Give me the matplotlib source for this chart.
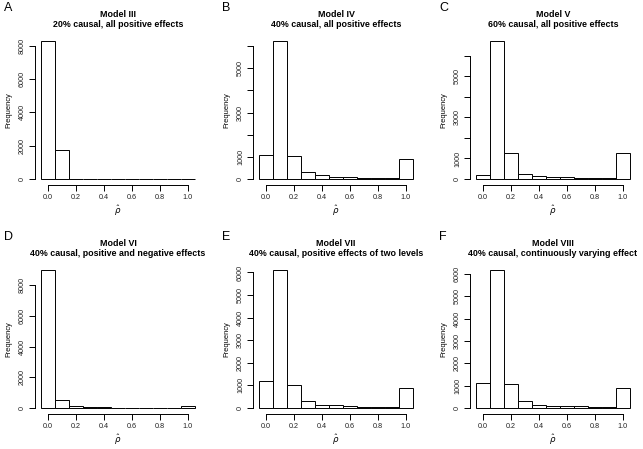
import matplotlib
matplotlib.use("Agg")
import matplotlib.pyplot as plt

plt.rcParams["font.family"] = ["Liberation Sans", "DejaVu Sans"]

bin_centers = [0.0, 0.1, 0.2, 0.3, 0.4, 0.5, 0.6, 0.7, 0.8, 0.9, 1.0]

counts_a = [8320, 1740, 0, 0, 0, 0, 0, 0, 0, 0, 0]
counts_b = [1070, 6250, 1020, 300, 165, 105, 75, 45, 60, 30, 900]
counts_c = [195, 6750, 1270, 245, 130, 100, 80, 30, 50, 30, 1250]
counts_d = [9020, 540, 150, 80, 40, 25, 10, 10, 10, 10, 150]
counts_e = [1210, 6130, 1020, 310, 150, 120, 100, 60, 30, 45, 870]
counts_f = [1100, 6190, 1060, 330, 150, 100, 75, 75, 30, 30, 900]

letters = ["A", "B", "C", "D", "E", "F"]
titles = [
    "Model III\n20% causal, all positive effects",
    "Model IV\n40% causal, all positive effects",
    "Model V\n60% causal, all positive effects",
    "Model VI\n40% causal, positive and negative effects",
    "Model VII\n40% causal, positive effects of two levels",
    "Model VIII\n40% causal, continuously varying effect",
]
y_ticks = [
    [0, 2000, 4000, 6000, 8000],
    [0, 1000, 2000, 3000, 4000, 5000, 6000],
    [0, 1000, 2000, 3000, 4000, 5000, 6000],
    [0, 2000, 4000, 6000, 8000],
    [0, 1000, 2000, 3000, 4000, 5000, 6000],
    [0, 1000, 2000, 3000, 4000, 5000, 6000],
]
# R drops labels that would overlap
y_labels = [
    ["0", "2000", "4000", "6000", "8000"],
    ["0", "1000", "", "3000", "", "5000", ""],
    ["0", "1000", "", "3000", "", "5000", ""],
    ["0", "2000", "4000", "6000", "8000"],
    ["0", "1000", "2000", "3000", "4000", "5000", "6000"],
    ["0", "1000", "2000", "3000", "4000", "5000", "6000"],
]
all_counts = [counts_a, counts_b, counts_c, counts_d, counts_e, counts_f]

W, H = 643, 449
fig = plt.figure(figsize=(W / 100, H / 100), dpi=100)

col_left = [35, 253, 470]
row_top = [35, 264]
ax_w, ax_h = 166, 149.5
lw = 0.7

for i in range(6):
    r, c = divmod(i, 3)
    left, top = col_left[c], row_top[r]
    ax = fig.add_axes([left / W, 1 - (top + ax_h) / H, ax_w / W, ax_h / H])
    counts = all_counts[i]
    ax.bar(bin_centers, counts, width=0.1, color="white", edgecolor="black", linewidth=lw)
    top_val = max(counts)
    ax.set_xlim(-0.094, 1.094)
    ax.set_ylim(-0.04 * top_val, 1.04 * top_val)

    for s in ["top", "right"]:
        ax.spines[s].set_visible(False)
    ax.spines["left"].set_bounds(0, y_ticks[i][-1])
    ax.spines["bottom"].set_bounds(0, 1)
    ax.spines["left"].set_linewidth(lw)
    ax.spines["bottom"].set_linewidth(lw)

    ax.set_xticks([0, 0.2, 0.4, 0.6, 0.8, 1.0])
    ax.set_xticklabels(["0.0", "0.2", "0.4", "0.6", "0.8", "1.0"])
    ax.set_yticks(y_ticks[i])
    ax.set_yticklabels(y_labels[i], rotation=90, va="center")
    ax.tick_params(length=4, width=lw, labelsize=5.2, pad=2.5, color="black", labelcolor="#222222")

    ax.set_ylabel("Frequency", fontsize=5.4, labelpad=5)
    ax.set_xlabel(r"$\hat{\rho}$", fontsize=6.2, labelpad=2)
    ax.set_title(titles[i], fontsize=6.4, fontweight="bold", pad=5.5, linespacing=1.25)

    fig.text((left - 31) / W, 1 - (top - 27) / H, letters[i], fontsize=9, va="center", ha="left")

fig.savefig("out.png", dpi=100, facecolor="white")
